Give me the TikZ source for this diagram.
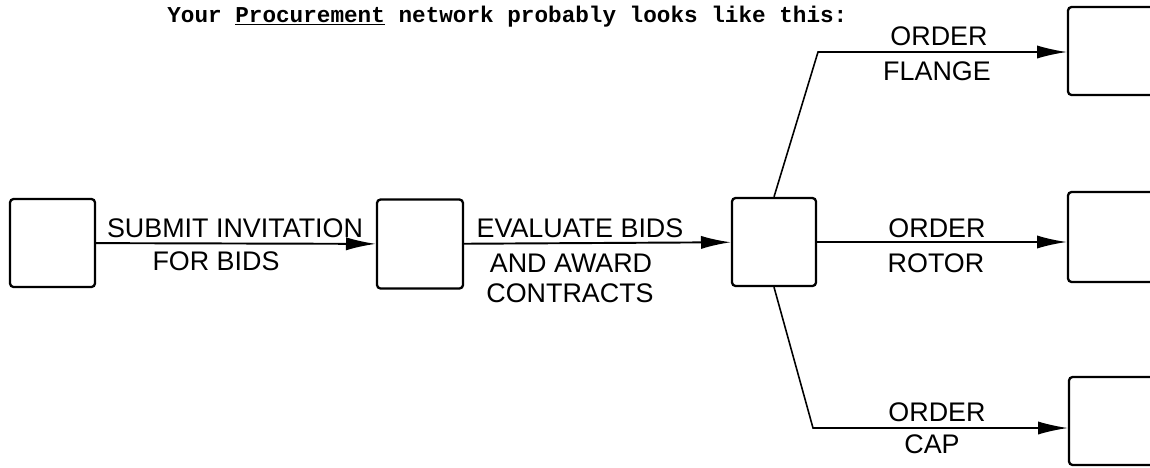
\documentclass[tikz,border=0pt]{standalone}
\usepackage{fontspec}
\setmainfont{Liberation Sans}
\newfontfamily\typefont{Liberation Mono}
\usepackage{tikz}
\usetikzlibrary{arrows.meta}
\tikzset{>={Latex[length=17pt, width=7.5pt]}}
\tikzstyle{event} = [rectangle, draw=black, line width=1.3pt, rounded corners=2pt, inner sep=0pt]
\tikzstyle{act} = [inner sep=0pt, anchor=base, font=\fontsize{15.3}{18}\selectfont]
\tikzstyle{arr} = [->, line width=1.1pt]

\begin{document}
\begin{tikzpicture}[x=0.02cm, y=-0.02cm]
\useasboundingbox (0,0) rectangle (1150,467);
\node [anchor=base west, inner sep=0pt, font=\typefont\bfseries\fontsize{12.9}{15}\selectfont] (title) at (167,22) {Your \underline{Procurement} network probably looks like this:};
% events
\node [event, minimum width=1.7cm, minimum height=1.76cm] (A) at (52.5,243) {};
\node [event, minimum width=1.72cm, minimum height=1.78cm] (B) at (420,244) {};
\node [event, minimum width=1.68cm, minimum height=1.76cm] (C) at (774,242) {};
\node [event, minimum width=2.2cm, minimum height=1.76cm] (D) at (1123,51) {};
\node [event, minimum width=2.2cm, minimum height=1.8cm] (E) at (1123,237) {};
\node [event, minimum width=2.2cm, minimum height=1.76cm] (F) at (1124,421) {};
\coordinate (up) at (818,52);
\coordinate (down) at (813,428);
% activities
\draw [arr] (A) -- (B);
\draw [arr] (B) -- (C);
\draw [arr] (C.east) -- (C.east -| E.west);
\draw [arr, line width=0.9pt] (C.north) -- (up) -- (up -| D.west);
\draw [arr, line width=0.9pt] (C.south) -- (down) -- (down -| F.west);
% labels
\node [act] (submit) at (235,237) {SUBMIT INVITATION};
\node [act] (forbids) at (216,270) {FOR BIDS};
\node [act] (evaluate) at (580,237) {EVALUATE BIDS};
\node [act] (award) at (571,272) {AND AWARD};
\node [act] (contracts) at (570,302) {CONTRACTS};
\node [act] (orderD) at (939,45) {ORDER};
\node [act] (flange) at (937,80) {FLANGE};
\node [act] (orderE) at (937,237) {ORDER};
\node [act] (rotor) at (936,272) {ROTOR};
\node [act] (orderF) at (937,421) {ORDER};
\node [act] (cap) at (932,453) {CAP};
\end{tikzpicture}
\end{document}
